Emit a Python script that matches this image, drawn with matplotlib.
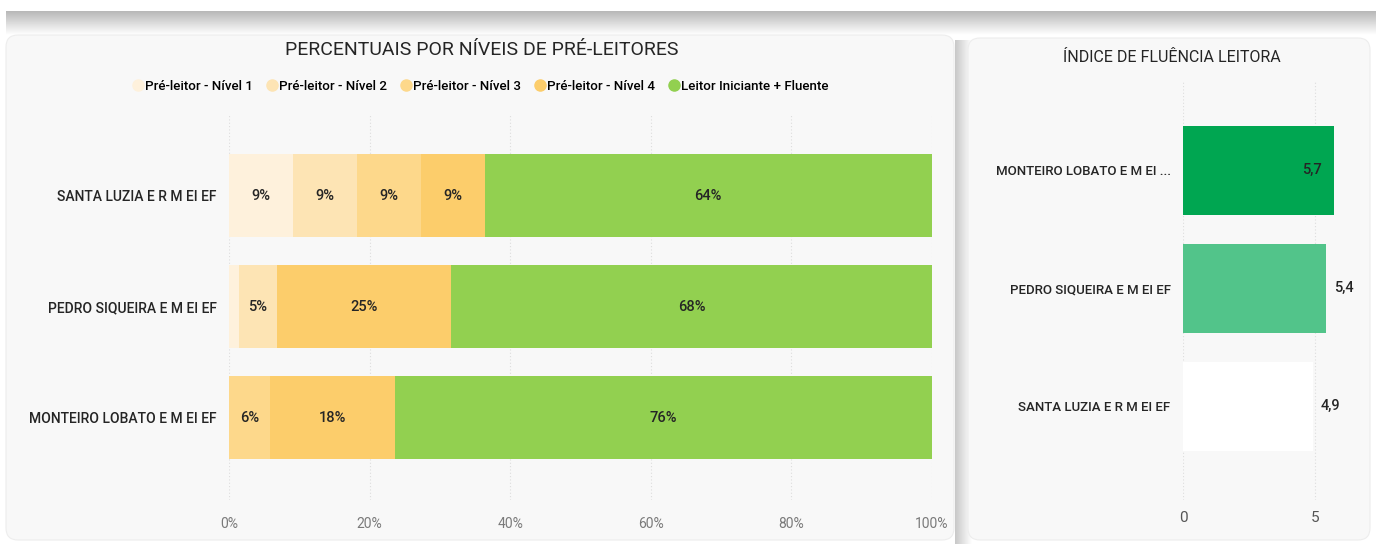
import matplotlib
matplotlib.use("Agg")
import matplotlib.pyplot as plt
import numpy as np
from matplotlib.patches import FancyBboxPatch
from matplotlib.lines import Line2D
from matplotlib.colors import LinearSegmentedColormap

plt.rcParams["font.family"] = ["Roboto", "DejaVu Sans"]

# Data
schools = ["SANTA LUZIA E R M EI EF", "PEDRO SIQUEIRA E M EI EF", "MONTEIRO LOBATO E M EI EF"]
levels = ["Pré-leitor - Nível 1", "Pré-leitor - Nível 2", "Pré-leitor - Nível 3",
          "Pré-leitor - Nível 4", "Leitor Iniciante + Fluente"]
nivel1 = [9.09, 1.4, 0.0]
nivel2 = [9.09, 5.4, 0.0]
nivel3 = [9.09, 0.0, 5.9]
nivel4 = [9.09, 24.8, 17.7]
fluente = [63.64, 68.4, 76.4]
level_colors = ["#FEF1DC", "#FDE4B4", "#FDD88B", "#FCCD6B", "#92D050"]

idx_schools = ["MONTEIRO LOBATO E M EI ...", "PEDRO SIQUEIRA E M EI EF", "SANTA LUZIA E R M EI EF"]
idx_values = [5.7, 5.4, 4.9]
idx_colors = ["#00A651", "#52C48A", "#FFFFFF"]

W, H = 1376, 544
fig = plt.figure(figsize=(W / 100, H / 100), dpi=100, facecolor="white")

# background decoration (pixel coordinates)
bg = fig.add_axes([0, 0, 1, 1])
bg.set_xlim(0, W)
bg.set_ylim(H, 0)
bg.axis("off")
shade = LinearSegmentedColormap.from_list("sh", ["#B8B8B8", "#FFFFFF"])
bg.imshow(np.linspace(0, 1, 50).reshape(-1, 1), extent=(6, W, 35, 11), origin="upper",
          cmap=shade, aspect="auto", zorder=0)
bg.imshow(np.linspace(1, 0, 50).reshape(1, -1), extent=(955, 972, H, 40),
          cmap=LinearSegmentedColormap.from_list("sh2", ["#FFFFFF", "#C8C8C8"]),
          aspect="auto", zorder=0)
bg.add_patch(FancyBboxPatch((6, 35), 948, 505, boxstyle="round,pad=0,rounding_size=12",
                            fc="#F8F8F8", ec="#EDEDED", lw=0.8, zorder=1))
bg.add_patch(FancyBboxPatch((968, 38), 402, 502, boxstyle="round,pad=0,rounding_size=12",
                            fc="#F8F8F8", ec="#EDEDED", lw=0.8, zorder=1))

# left chart
ax = fig.add_axes([229 / W, 1 - 500 / H, 703 / W, 385 / H])
ax.set_facecolor("none")
y = np.arange(len(schools))
left = np.zeros(len(schools))
for vals, lab, col in zip([nivel1, nivel2, nivel3, nivel4, fluente], levels, level_colors):
    vals = np.array(vals)
    ax.barh(y, vals, left=left, height=0.75, color=col, label=lab, zorder=2)
    for yi, v, l in zip(y, vals, left):
        if v >= 3:
            ax.text(l + v / 2, yi, f"{round(v)}%", ha="center", va="center",
                    fontsize=10.5, fontweight="medium", color="#252525", zorder=3)
    left += vals
ax.set_xlim(0, 100)
ax.set_ylim(2.74, -0.725)
ax.set_yticks(y)
ax.set_yticklabels(schools, fontsize=10, fontweight="medium", color="#252525")
ax.set_xticks(np.arange(0, 101, 20))
ax.set_xticklabels([f"{t}%" for t in range(0, 101, 20)], fontsize=10, color="#7A7A7A")
ax.tick_params(length=0)
ax.tick_params(axis="y", pad=9)
ax.tick_params(axis="x", pad=12)
ax.grid(axis="x", color="#DDDDDD", linestyle=(0, (1, 2)), lw=0.8, zorder=0)
for s in ax.spines.values():
    s.set_visible(False)

fig.text(482 / W, 1 - 50 / H, "PERCENTUAIS POR NÍVEIS DE PRÉ-LEITORES", ha="center", va="center",
         fontsize=14, color="#252525")
handles = [Line2D([], [], marker="o", ls="none", markersize=8, markerfacecolor=c,
                  markeredgecolor=c) for c in level_colors]
fig.legend(handles, levels, loc="center", bbox_to_anchor=(480 / W, 1 - 86 / H), ncol=5,
           frameon=False, handletextpad=0.05, columnspacing=0.9,
           handlelength=1.0, prop={"weight": "medium", "size": 9.6})

# right chart
ax2 = fig.add_axes([1183 / W, 1 - 500 / H, 164 / W, 420 / H])
ax2.set_facecolor("none")
y2 = np.arange(len(idx_schools))
ax2.barh(y2, idx_values, height=0.755, color=idx_colors, zorder=2)
ax2.set_xlim(0, 6.2)
ax2.set_ylim(2.797, -0.767)
ax2.set_yticks(y2)
ax2.set_yticklabels(idx_schools, fontsize=9.5, fontweight="medium", color="#252525")
ax2.set_xticks([0, 5])
ax2.set_xticklabels(["0", "5"], fontsize=11, color="#555555")
ax2.tick_params(length=0)
ax2.tick_params(axis="y", pad=9)
ax2.tick_params(axis="x", pad=8)
ax2.grid(axis="x", color="#DDDDDD", linestyle=(0, (1, 2)), lw=0.8, zorder=0)
for s in ax2.spines.values():
    s.set_visible(False)
for yi, v in zip(y2, idx_values):
    txt = f"{v:.1f}".replace(".", ",")
    if v >= 5.6:
        ax2.text(v - 0.45, yi, txt, ha="right", va="center", fontsize=10.5,
                 fontweight="medium", color="#252525", zorder=3)
    else:
        ax2.text(v + 0.3, yi, txt, ha="left", va="center", fontsize=10.5,
                 fontweight="medium", color="#252525", zorder=3)
fig.text(1172 / W, 1 - 57 / H, "ÍNDICE DE FLUÊNCIA LEITORA", ha="center", va="center",
         fontsize=11.5, color="#252525")

fig.savefig("out.png", dpi=100, facecolor="white")
